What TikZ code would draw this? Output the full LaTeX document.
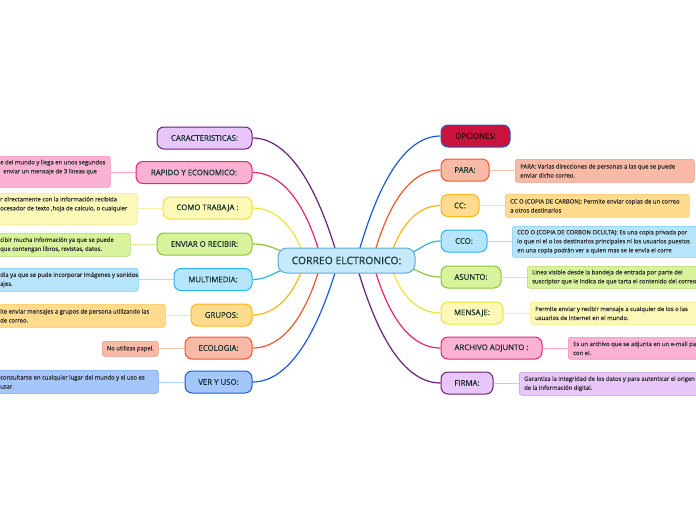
\documentclass[tikz,border=0pt]{standalone}
\usepackage{fontspec}
\setmainfont{Open Sans}
\newfontfamily\nodefont[FakeBold=0.5]{Open Sans}
\newfontfamily\detfont[FakeBold=0.25]{Open Sans}
\usetikzlibrary{backgrounds}
\definecolor{ctext}{HTML}{15332E}
\definecolor{dtext}{HTML}{2E2E2E}
\definecolor{puF}{HTML}{E9C6F9}\definecolor{puD}{HTML}{6B1F7C}\definecolor{puL}{HTML}{DDBDEB}\definecolor{puB}{HTML}{C79AD9}
\definecolor{piF}{HTML}{FAB1D2}\definecolor{piD}{HTML}{E8246F}\definecolor{piL}{HTML}{F7A8CA}\definecolor{piB}{HTML}{F28DB8}
\definecolor{yeF}{HTML}{FCF8B7}\definecolor{yeD}{HTML}{F1E23A}\definecolor{yeL}{HTML}{F7F0A8}\definecolor{yeB}{HTML}{F4EA7C}
\definecolor{grF}{HTML}{D9F39C}\definecolor{grD}{HTML}{8CC63F}\definecolor{grL}{HTML}{D4EDA3}\definecolor{grB}{HTML}{B3DB6C}
\definecolor{lbF}{HTML}{B6E5FB}\definecolor{lbD}{HTML}{2AB5F0}\definecolor{lbL}{HTML}{B0DDF5}\definecolor{lbB}{HTML}{7DCCF2}
\definecolor{orF}{HTML}{FFDB8E}\definecolor{orD}{HTML}{FFB51A}\definecolor{orL}{HTML}{FBE2A8}\definecolor{orB}{HTML}{FCC65A}
\definecolor{saF}{HTML}{F8BAA6}\definecolor{saD}{HTML}{F2562A}\definecolor{saL}{HTML}{F6C1B0}\definecolor{saB}{HTML}{EE9A80}
\definecolor{blF}{HTML}{A4C6FA}\definecolor{blD}{HTML}{1B5CD6}\definecolor{blL}{HTML}{B6D0F6}\definecolor{blB}{HTML}{6C9CEB}
\definecolor{ceF}{HTML}{C6E9FB}\definecolor{ceD}{HTML}{5BAED8}
\definecolor{opF}{HTML}{C8143C}\definecolor{opT}{HTML}{2B0A12}
\begin{document}
\begin{tikzpicture}[x=1pt,y=-1pt,
  branch/.style={rounded corners=7pt, line width=1pt, minimum height=22pt, inner sep=0pt,
    font=\nodefont\fontsize{7.8}{8}\selectfont, text=ctext},
  dbox/.style={rounded corners=2.5pt, line width=0.6pt, inner sep=0pt, anchor=north west},
  dtxt/.style={inner sep=0pt, align=left, anchor=west, font=\detfont\fontsize{5.9}{9}\selectfont, text=dtext},
  link/.style={line width=1.2pt},
  dlink/.style={line width=0.9pt}]
\useasboundingbox (0,0) rectangle (696,520);

% central
\node[branch, rounded corners=9pt, fill=ceF, draw=ceD, minimum width=137pt, minimum height=25pt,
  font=\nodefont\fontsize{10.4}{12}\selectfont] (c) at (346.5,260.5) {CORREO ELCTRONICO:};

% left branches
\node[branch, fill=puF, draw=puD, minimum width=95pt]  (car) at (204.5,138) {CARACTERISTICAS:};
\node[branch, fill=piF, draw=piD, minimum width=116pt] (rap) at (194,172.5) {RAPIDO Y ECONOMICO:};
\node[branch, fill=yeF, draw=yeD, minimum width=89pt]  (com) at (207.5,208) {COMO TRABAJA :};
\node[branch, fill=grF, draw=grD, minimum width=95pt]  (env) at (204.5,244) {ENVIAR O RECIBIR:};
\node[branch, fill=lbF, draw=lbD, minimum width=78pt]  (mul) at (213,279.5) {MULTIMEDIA:};
\node[branch, fill=orF, draw=orD, minimum width=61pt]  (gru) at (221.5,315) {GRUPOS:};
\node[branch, fill=saF, draw=saD, minimum width=67pt]  (eco) at (218.5,348) {ECOLOGIA:};
\node[branch, fill=blF, draw=blD, minimum width=67pt]  (ver) at (218.5,382) {VER Y USO:};

% right branches
\node[branch, fill=opF, draw=blD, minimum width=69pt, text=opT] (opc) at (475.5,136) {OPCIONES:};
\node[branch, fill=saF, draw=saD, minimum width=48pt]  (par) at (465,170) {PARA:};
\node[branch, fill=orF, draw=orD, minimum width=38pt]  (cc)  at (460,205.5) {CC:};
\node[branch, fill=lbF, draw=lbD, minimum width=46pt]  (cco) at (464,241) {CCO:};
\node[branch, fill=grF, draw=grD, minimum width=60pt]  (asu) at (471,277) {ASUNTO:};
\node[branch, fill=yeF, draw=yeD, minimum width=62pt]  (men) at (472,313) {MENSAJE:};
\node[branch, fill=piF, draw=piD, minimum width=101pt] (arc) at (491.5,348) {ARCHIVO ADJUNTO :};
\node[branch, fill=puF, draw=puD, minimum width=52pt]  (fir) at (467,383) {FIRMA:};

% left detail boxes
\node[dbox, fill=piF, draw=piB, minimum width=114pt, minimum height=31pt] (rapD) at (-4,156) {};
\node[dtxt] (rapT) at ([xshift=4pt,yshift=4.5pt]rapD.west) {e del mundo y llega en unos segundos\\\hspace*{3pt}enviar un mensaje de 3 lineas que};
\node[dbox, fill=yeF, draw=yeB, minimum width=141pt, minimum height=31pt] (comD) at (-4,193) {};
\node[dtxt] (comT) at ([xshift=4pt,yshift=4.5pt]comD.west) {r directamente con la información recibida\\ocesador de texto ,hoja de calculo, o cualquier};
\node[dbox, fill=grF, draw=grB, minimum width=134pt, minimum height=23pt] (envD) at (-4,233) {};
\node[dtxt] (envT) at ([xshift=4pt]envD.west) {cibir mucha información ya que se puede\\que contengan libros, revistas, datos.};
\node[dbox, fill=lbF, draw=lbB, minimum width=142pt, minimum height=23pt] (mulD) at (-4,268) {};
\node[dtxt] (mulT) at ([xshift=4pt]mulD.west) {dia ya que se pude incorporar imágenes y sonidos\\ajes.};
\node[dbox, fill=orF, draw=orB, minimum width=169pt, minimum height=23pt] (gruD) at (-4,304) {};
\node[dtxt] (gruT) at ([xshift=4pt]gruD.west) {ite enviar mensajes a grupos de persona utilizando las\\de correo.};
\node[dbox, fill=saF, draw=saB, minimum width=56pt, minimum height=15pt] (ecoD) at (102,341) {};
\node[dtxt, anchor=center] (ecoT) at (ecoD.center) {No utilizas papel.};
\node[dbox, fill=blF, draw=blB, minimum width=162pt, minimum height=23pt] (verD) at (-4,370) {};
\node[dtxt] (verT) at ([xshift=4pt]verD.west) {consultarse en cualquier lugar del mundo y el uso es\\usar.};

% right detail boxes
\node[dbox, fill=saF, draw=saB, minimum width=179pt, minimum height=23pt] (parD) at (515,159) {};
\node[dtxt] (parT) at ([xshift=5pt]parD.west) {PARA: Varias direcciones de personas a las que se puede\\enviar dicho correo.};
\node[dbox, fill=orF, draw=orB, minimum width=184pt, minimum height=23pt] (ccD) at (505,194) {};
\node[dtxt] (ccT) at ([xshift=5pt]ccD.west) {CC O (COPIA DE CARBON): Permite enviar copias de un correo\\a otros destinarios};
\node[dbox, fill=lbF, draw=lbB, minimum width=190pt, minimum height=31pt] (ccoD) at (512,226) {};
\node[dtxt] (ccoT) at ([xshift=5pt]ccoD.west) {CCO O (COPIA DE CORBON OCULTA): Es una copia privada por\\lo que ni el o los destinarios principales ni los usuarios puestos\\en una copia podrán ver a quien mas se le envía el corre};
\node[dbox, fill=grF, draw=grB, minimum width=190pt, minimum height=22pt] (asuD) at (527,266) {};
\node[dtxt] (asuT) at ([xshift=5pt]asuD.west) {Linea visible desde la bandeja de entrada por parte del\\suscriptor que le indica de que tarta el contenido del correo};
\node[dbox, fill=yeF, draw=yeB, minimum width=175pt, minimum height=22pt] (menD) at (530,302) {};
\node[dtxt] (menT) at ([xshift=5pt]menD.west) {Permite enviar y recibir mensaje a cualquier de los o las\\usuarios de internet en el mundo.};
\node[dbox, fill=piF, draw=piB, minimum width=150pt, minimum height=22pt] (arcD) at (568,337) {};
\node[dtxt] (arcT) at ([xshift=5pt]arcD.west) {Es un archivo que se adjunta en un e-mail pa\\con el.};
\node[dbox, fill=puF, draw=puB, minimum width=190pt, minimum height=23pt] (firD) at (519,372) {};
\node[dtxt] (firT) at ([xshift=5pt]firD.west) {Garantiza la integridad de los datos y para autenticar el origen\\de la información digital.};

\begin{scope}[on background layer]
  \fill[white] (0,0) rectangle (696,520);
  \coordinate (aCar) at (336.5,253);
  \coordinate (aRap) at (319.5,253);
  \coordinate (aCom) at (302.5,253);
  \coordinate (aEnv) at (287,253);
  \coordinate (aMul) at (287,268);
  \coordinate (aGru) at (302.5,268);
  \coordinate (aEco) at (319.5,268);
  \coordinate (aVer) at (336.5,268);
  \coordinate (aOpc) at (358.5,253);
  \coordinate (aPar) at (374.5,253);
  \coordinate (aCC)  at (391.5,253);
  \coordinate (aCCO) at (408,254);
  \coordinate (aAsu) at (408,267);
  \coordinate (aMen) at (391.5,268);
  \coordinate (aArc) at (374.5,268);
  \coordinate (aFir) at (357.5,268);
  \draw[link, puD] (aCar) .. controls +(-15,-50) and +(42,0) .. (car.east);
  \draw[link, piD] (aRap) .. controls +(-11,-38) and +(35,0) .. (rap.east);
  \draw[link, yeD] (aCom) .. controls +(-8,-24) and +(25,0) .. (com.east);
  \draw[link, grD] (aEnv) .. controls +(-14,-5) and +(14,0) .. (env.east);
  \draw[link, lbD] (aMul) .. controls +(-14,5) and +(14,0) .. (mul.east);
  \draw[link, orD] (aGru) .. controls +(-8,24) and +(25,0) .. (gru.east);
  \draw[link, saD] (aEco) .. controls +(-11,38) and +(35,0) .. (eco.east);
  \draw[link, blD] (aVer) .. controls +(-15,50) and +(42,0) .. (ver.east);
  \draw[link, blD] (aOpc) .. controls +(15,-52) and +(-42,0) .. (opc.west);
  \draw[link, saD] (aPar) .. controls +(11,-38) and +(-35,0) .. (par.west);
  \draw[link, orD] (aCC)  .. controls +(8,-24) and +(-25,0) .. (cc.west);
  \draw[link, lbD] (aCCO) .. controls +(14,-5) and +(-14,0) .. (cco.west);
  \draw[link, grD] (aAsu) .. controls +(14,5) and +(-14,0) .. (asu.west);
  \draw[link, yeD] (aMen) .. controls +(8,24) and +(-25,0) .. (men.west);
  \draw[link, piD] (aArc) .. controls +(11,38) and +(-35,0) .. (arc.west);
  \draw[link, puD] (aFir) .. controls +(15,52) and +(-42,0) .. (fir.west);
  % detail links
  \draw[dlink, piL] (rap.west) -- (rap.west -| rapD.east);
  \draw[dlink, yeL] (com.west) -- (com.west -| comD.east);
  \draw[dlink, grL] (env.west) -- (env.west -| envD.east);
  \draw[dlink, lbL] (mul.west) -- (mul.west -| mulD.east);
  \draw[dlink, orL] (gru.west) -- (gru.west -| gruD.east);
  \draw[dlink, saL] (eco.west) -- (eco.west -| ecoD.east);
  \draw[dlink, blL] (ver.west) -- (ver.west -| verD.east);
  \draw[dlink, saL] (par.east) -- (par.east -| parD.west);
  \draw[dlink, orL] (cc.east) -- (cc.east -| ccD.west);
  \draw[dlink, lbL] (cco.east) -- (cco.east -| ccoD.west);
  \draw[dlink, grL] (asu.east) -- (asu.east -| asuD.west);
  \draw[dlink, yeL] (men.east) -- (men.east -| menD.west);
  \draw[dlink, piL] (arc.east) -- (arc.east -| arcD.west);
  \draw[dlink, puL] (fir.east) -- (fir.east -| firD.west);
\end{scope}
\end{tikzpicture}
\end{document}
